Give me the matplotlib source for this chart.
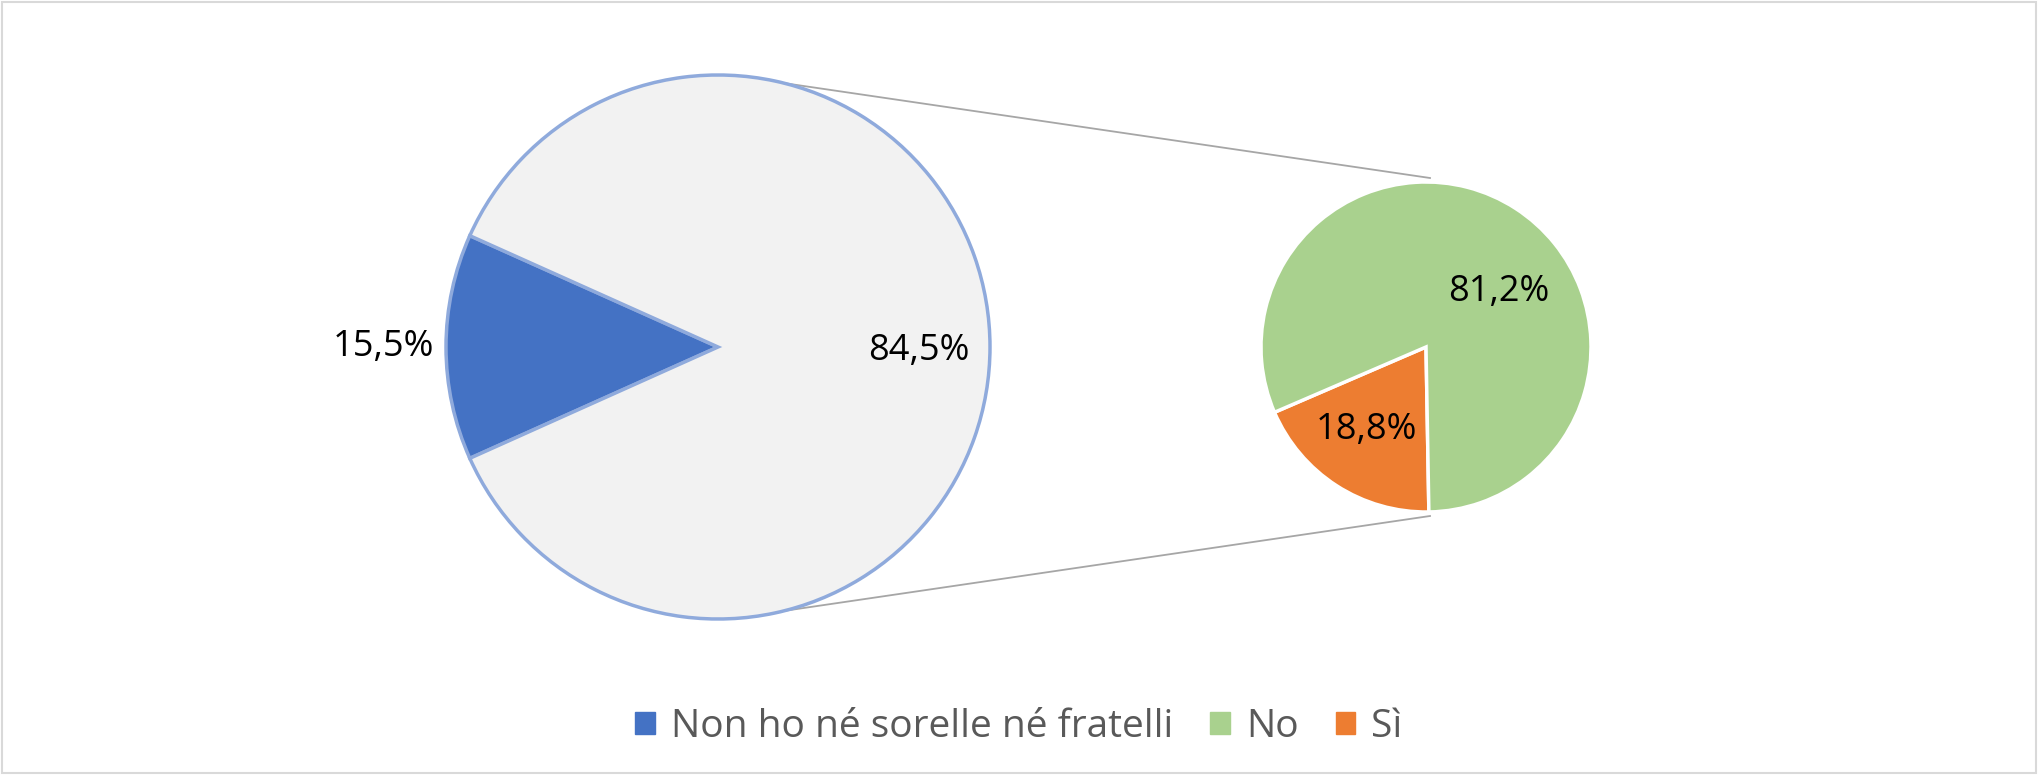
import numpy as np
import matplotlib.pyplot as plt
from matplotlib.patches import Patch, Rectangle

# Dati (valori in %)
first_value = 15.5                 # Non ho né sorelle né fratelli
sub_labels = ['No', 'Sì']
sub_values = [81.2, 18.8]          # ripartizione di chi ha fratelli/sorelle
main_pct_labels = [15.5, 84.5]     # etichette mostrate sulla torta principale
legend_labels = ['Non ho né sorelle né fratelli', 'No', 'Sì']

blue = '#4472c4'
green = '#a9d18e'
orange = '#ed7d31'
grey_fill = '#f2f2f2'
edge_blue = '#8faadc'

plt.rcParams['font.family'] = ['Open Sans', 'DejaVu Sans']

W, H = 2038, 775
fig = plt.figure(figsize=(W / 100, H / 100), dpi=100)
ax = fig.add_axes([0, 0, 1, 1])

# torta principale: fetta "altro" = somma della torta secondaria
main_values = [first_value, sum(sub_values)]
c1 = (718, 428)
r1 = 272
start1 = 180 - main_values[0] / sum(main_values) * 360 / 2
ax.pie(main_values, colors=[blue, grey_fill], startangle=start1,
       center=c1, radius=r1,
       wedgeprops=dict(edgecolor=edge_blue, linewidth=2.5))

# torta secondaria (Sì parte dal basso, in senso antiorario)
c2 = (1426, 428)
r2 = 165
start2 = 271 - sub_values[1] / sum(sub_values) * 360
ax.pie(sub_values[::-1], colors=[orange, green], startangle=start2,
       center=c2, radius=r2,
       wedgeprops=dict(edgecolor='white', linewidth=2.5))

ax.set_xlim(0, W)
ax.set_ylim(0, H)
ax.set_aspect('equal')
ax.axis('off')

# linee di collegamento
a = np.deg2rad(76)
for s in (1, -1):
    x0 = c1[0] + r1 * np.cos(a)
    y0 = c1[1] + s * r1 * np.sin(a)
    x1 = c2[0] + 4
    y1 = c2[1] + s * (r2 + 4)
    ax.plot([x0, x1], [y0, y1], color='#a6a6a6', lw=1.3, zorder=0)

# etichette percentuali
def fmt(v):
    return f'{v:.1f}%'.replace('.', ',')

def put(center, r, ang, dist, val):
    t = np.deg2rad(ang)
    ax.text(center[0] + dist * r * np.cos(t), center[1] + dist * r * np.sin(t),
            fmt(val), ha='center', va='center', fontsize=26, color='black')

put(c1, r1, 180, 1.23, main_pct_labels[0])
put(c1, r1, -1, 0.74, main_pct_labels[1])
put(c2, r2, 37, 0.55, sub_values[0])
put(c2, r2, 234.6, 0.62, sub_values[1])

# legenda
handles = [Patch(color=blue), Patch(color=green), Patch(color=orange)]
fig.legend(handles, legend_labels, loc='center', bbox_to_anchor=(0.5, 48 / H),
           ncol=3, frameon=False, fontsize=28, labelcolor='#595959',
           handlelength=0.5, handleheight=0.5, handletextpad=0.42,
           columnspacing=0.95)

# bordo
fig.patches.append(Rectangle((0.001, 0.002), 0.998, 0.996, transform=fig.transFigure,
                             fill=False, edgecolor='#d9d9d9', lw=1.5))

fig.savefig('out.png', dpi=100, facecolor='white')
